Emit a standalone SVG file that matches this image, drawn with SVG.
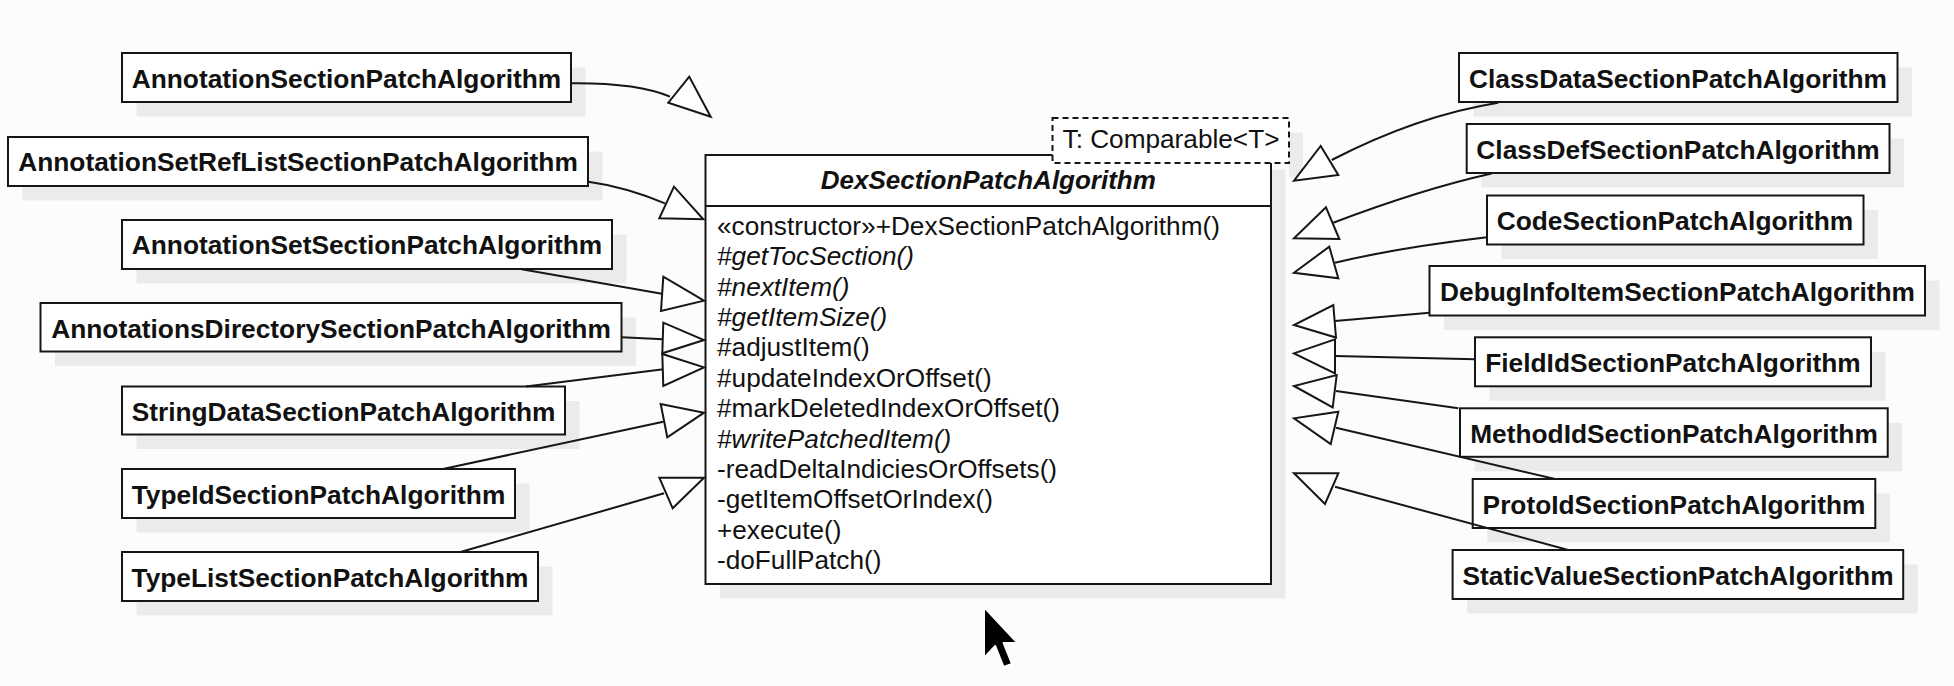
<svg xmlns="http://www.w3.org/2000/svg" width="1954" height="686" viewBox="0 0 1954 686">
<style>
.bg{fill:#fcfcfc}
.shadow{fill:#ebebeb}
.box{fill:#ffffff;stroke:#161616;stroke-width:2}
.tpl{fill:#ffffff;stroke:#161616;stroke-width:2;stroke-dasharray:6 4}
.lbl{font-family:"Liberation Sans",Arial,Helvetica,sans-serif;font-weight:bold;font-size:26.3px;fill:#111;text-anchor:middle}
.title{font-family:"Liberation Sans",Arial,Helvetica,sans-serif;font-weight:bold;font-style:italic;font-size:26px;fill:#111;text-anchor:middle}
.mem{font-family:"Liberation Sans",Arial,Helvetica,sans-serif;font-size:26.2px;fill:#111}
.abs{font-style:italic}
.edge{fill:none;stroke:#161616;stroke-width:2}
.tri{fill:#ffffff;stroke:#161616;stroke-width:2;stroke-linejoin:miter}
</style>
<rect class="bg" x="0" y="0" width="1954" height="686"/>

<g id="node-AnnotationSectionPatchAlgorithm">
<rect class="shadow" x="136.5" y="67.5" width="449" height="49"/>
<rect class="box" x="122" y="53" width="449" height="49"/>
<text class="lbl" x="346.5" y="88">AnnotationSectionPatchAlgorithm</text>
</g>
<g id="node-AnnotationSetRefListSectionPatchAlgorithm">
<rect class="shadow" x="22.5" y="151.5" width="580" height="49"/>
<rect class="box" x="8" y="137" width="580" height="49"/>
<text class="lbl" x="298" y="171">AnnotationSetRefListSectionPatchAlgorithm</text>
</g>
<g id="node-AnnotationSetSectionPatchAlgorithm">
<rect class="shadow" x="136.5" y="234.5" width="490" height="49"/>
<rect class="box" x="122" y="220" width="490" height="49"/>
<text class="lbl" x="367" y="253.5">AnnotationSetSectionPatchAlgorithm</text>
</g>
<g id="node-AnnotationsDirectorySectionPatchAlgorithm">
<rect class="shadow" x="55" y="317.5" width="581" height="48.5"/>
<rect class="box" x="40.5" y="303" width="581" height="48.5"/>
<text class="lbl" x="331" y="337.5">AnnotationsDirectorySectionPatchAlgorithm</text>
</g>
<g id="node-StringDataSectionPatchAlgorithm">
<rect class="shadow" x="136.5" y="401" width="443" height="48"/>
<rect class="box" x="122" y="386.5" width="443" height="48"/>
<text class="lbl" x="343.5" y="420.5">StringDataSectionPatchAlgorithm</text>
</g>
<g id="node-TypeIdSectionPatchAlgorithm">
<rect class="shadow" x="136.5" y="483.5" width="393" height="49"/>
<rect class="box" x="122" y="469" width="393" height="49"/>
<text class="lbl" x="318.5" y="503.5">TypeIdSectionPatchAlgorithm</text>
</g>
<g id="node-TypeListSectionPatchAlgorithm">
<rect class="shadow" x="136.5" y="566.5" width="416" height="49"/>
<rect class="box" x="122" y="552" width="416" height="49"/>
<text class="lbl" x="330" y="587">TypeListSectionPatchAlgorithm</text>
</g>

<g id="node-DexSectionPatchAlgorithm">
<rect class="shadow" x="720" y="169.5" width="565.5" height="429"/>
<rect class="box" x="705.5" y="155" width="565.5" height="429"/>
<line class="edge" x1="705.5" y1="206" x2="1271" y2="206"/>
<text class="title" x="988.3" y="189">DexSectionPatchAlgorithm</text>
<text class="mem" x="717" y="235">«constructor»+DexSectionPatchAlgorithm()</text>
<text class="mem abs" x="717" y="265.4">#getTocSection()</text>
<text class="mem abs" x="717" y="295.7">#nextItem()</text>
<text class="mem abs" x="717" y="326.1">#getItemSize()</text>
<text class="mem" x="717" y="356.4">#adjustItem()</text>
<text class="mem" x="717" y="386.8">#updateIndexOrOffset()</text>
<text class="mem" x="717" y="417.2">#markDeletedIndexOrOffset()</text>
<text class="mem abs" x="717" y="447.5">#writePatchedItem()</text>
<text class="mem" x="717" y="477.9">-readDeltaIndiciesOrOffsets()</text>
<text class="mem" x="717" y="508.2">-getItemOffsetOrIndex()</text>
<text class="mem" x="717" y="538.6">+execute()</text>
<text class="mem" x="717" y="569">-doFullPatch()</text>
<rect class="shadow" x="1289" y="132.5" width="14" height="45"/>
<rect class="tpl" x="1052.5" y="118" width="236.5" height="45"/>
<text class="mem" x="1171" y="148" text-anchor="middle">T: Comparable&lt;T&gt;</text>
</g>

<g id="node-ClassDataSectionPatchAlgorithm">
<rect class="shadow" x="1473.5" y="67.5" width="438.5" height="49"/>
<rect class="box" x="1459" y="53" width="438.5" height="49"/>
<text class="lbl" x="1678" y="88">ClassDataSectionPatchAlgorithm</text>
</g>
<g id="node-ClassDefSectionPatchAlgorithm">
<rect class="shadow" x="1481.2" y="138.5" width="422.8" height="49"/>
<rect class="box" x="1466.7" y="124" width="422.8" height="49"/>
<text class="lbl" x="1678" y="159">ClassDefSectionPatchAlgorithm</text>
</g>
<g id="node-CodeSectionPatchAlgorithm">
<rect class="shadow" x="1501.5" y="210" width="376.5" height="49"/>
<rect class="box" x="1487" y="195.5" width="376.5" height="49"/>
<text class="lbl" x="1675" y="230">CodeSectionPatchAlgorithm</text>
</g>
<g id="node-DebugInfoItemSectionPatchAlgorithm">
<rect class="shadow" x="1444" y="280.5" width="495.5" height="49.5"/>
<rect class="box" x="1429.5" y="266" width="495.5" height="49.5"/>
<text class="lbl" x="1677.5" y="301">DebugInfoItemSectionPatchAlgorithm</text>
</g>
<g id="node-FieldIdSectionPatchAlgorithm">
<rect class="shadow" x="1489.5" y="351.8" width="396" height="49"/>
<rect class="box" x="1475" y="337.3" width="396" height="49"/>
<text class="lbl" x="1673" y="372">FieldIdSectionPatchAlgorithm</text>
</g>
<g id="node-MethodIdSectionPatchAlgorithm">
<rect class="shadow" x="1474.5" y="422.8" width="427.7" height="48.5"/>
<rect class="box" x="1460" y="408.3" width="427.7" height="48.5"/>
<text class="lbl" x="1674" y="443">MethodIdSectionPatchAlgorithm</text>
</g>
<g id="node-ProtoIdSectionPatchAlgorithm">
<rect class="shadow" x="1487.2" y="493.5" width="402.6" height="49"/>
<rect class="box" x="1472.7" y="479" width="402.6" height="49"/>
<text class="lbl" x="1674" y="513.5">ProtoIdSectionPatchAlgorithm</text>
</g>
<g id="node-StaticValueSectionPatchAlgorithm">
<rect class="shadow" x="1467.1" y="564.5" width="450.6" height="49"/>
<rect class="box" x="1452.6" y="550" width="450.6" height="49"/>
<text class="lbl" x="1678" y="585">StaticValueSectionPatchAlgorithm</text>
</g>

<g id="connectors">
<path class="edge" d="M571.7,83.3 C610,83 645,86 670,96.7"/>
<polygon class="tri" points="689.3,76.7 668.3,102.7 710.7,116.7"/>
<path class="edge" d="M588.3,181.7 C620,186 645,195 665,203.3"/>
<polygon class="tri" points="674,186.7 659.3,218.3 703.3,219.3"/>
<path class="edge" d="M521.7,269.3 L663.3,294"/>
<polygon class="tri" points="663.3,276.7 661,311 704,300.7"/>
<path class="edge" d="M621.7,337.3 L663.3,339.3"/>
<polygon class="tri" points="663.3,322.7 662.3,353.3 704,340"/>
<path class="edge" d="M526,386.5 L663.3,369.3"/>
<polygon class="tri" points="662.3,354 663.3,386 704,367.3"/>
<path class="edge" d="M443,469 L663.3,421.7"/>
<polygon class="tri" points="660.7,404 667.3,437.3 704,412.7"/>
<path class="edge" d="M460.5,552 L664,493.3"/>
<polygon class="tri" points="659.3,477.7 672.7,508.3 704,477.7"/>

<path class="edge" d="M1498.3,102.7 C1440,112 1380,135 1331.7,160"/>
<polygon class="tri" points="1320.7,146 1338.3,175 1294,180.7"/>
<path class="edge" d="M1491.7,173.5 C1440,185 1380,205 1333.3,222.7"/>
<polygon class="tri" points="1326,207.3 1339.3,239 1294,238.3"/>
<path class="edge" d="M1487,237.3 C1430,244 1380,252 1335,262.7"/>
<polygon class="tri" points="1329.3,246.7 1338.3,278.3 1294,272.7"/>
<path class="edge" d="M1429.5,312.7 L1335,321"/>
<polygon class="tri" points="1333.3,305 1336,337.5 1294,325"/>
<path class="edge" d="M1475,359.3 L1335,356"/>
<polygon class="tri" points="1335,339.3 1335,373.3 1294,353.3"/>
<path class="edge" d="M1458.3,408.3 L1336,391"/>
<polygon class="tri" points="1336.7,375 1332.7,407.3 1294,386"/>
<path class="edge" d="M1555,479 L1336,427.7"/>
<polygon class="tri" points="1338.3,411.7 1330.7,444 1294,418.3"/>
<path class="edge" d="M1568.3,550 L1335,486.7"/>
<polygon class="tri" points="1338.3,473.3 1325,504 1294,473.3"/>
</g>

<polygon points="984,607 984,658 995.2,646 1003.6,667 1012,664 1003.6,643 1017.6,643" fill="#000000" stroke="#ffffff" stroke-width="2" stroke-linejoin="round"/>
</svg>
